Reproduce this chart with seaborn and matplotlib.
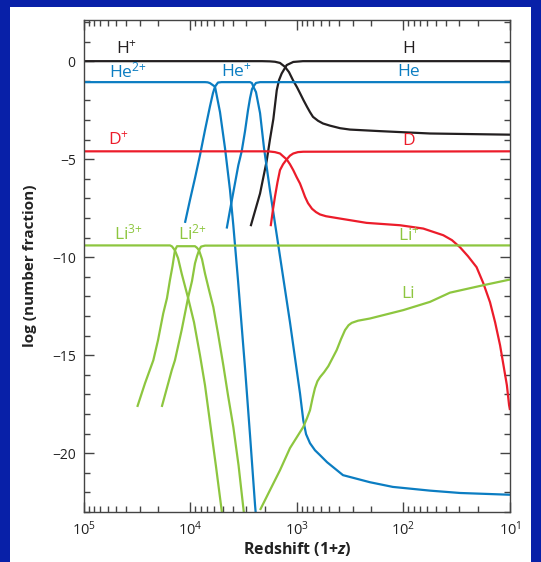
import matplotlib
matplotlib.use("Agg")
import matplotlib.pyplot as plt
import seaborn as sns
from matplotlib.patches import Rectangle
from matplotlib.ticker import LogLocator, MultipleLocator, FixedLocator, NullFormatter

sns.set_theme(style="ticks")
plt.rcParams['font.family'] = ['Open Sans', 'DejaVu Sans']
plt.rcParams['mathtext.fontset'] = 'custom'
plt.rcParams['mathtext.rm'] = 'Open Sans'
plt.rcParams['mathtext.it'] = 'Open Sans:italic'
plt.rcParams['mathtext.bf'] = 'Open Sans:bold'
plt.rcParams['mathtext.bfit'] = 'Open Sans:italic:bold'
plt.rcParams['axes.unicode_minus'] = True

# ---------------- data: redshift (1+z) and log(number fraction) ----------------
h_plus_z = [100000, 2133, 1795, 1611, 1445, 1297, 1189, 1091, 1000, 937.6, 869, 805, 755, 708, 635,
            570, 490, 394, 318, 166, 56.4, 10]
h_plus_y = [0, 0, -0.01, -0.03, -0.09, -0.29, -0.56, -0.97, -1.33, -1.63, -1.99, -2.33, -2.60, -2.84, -3.04,
            -3.18, -3.29, -3.42, -3.49, -3.57, -3.69, -3.75]

h_z = [2723, 2223, 1928, 1795, 1667, 1549, 1476, 1393, 1250, 1084, 879, 10]
h_y = [-8.42, -6.75, -5.1, -4.0, -2.95, -1.48, -0.97, -0.63, -0.20, -0.04, 0, 0]

he2_z = [100000, 7311, 6900, 6561, 5888, 5284, 4742, 4256, 3963, 3581, 3076, 2761, 2477, 2427]
he2_y = [-1.07, -1.07, -1.08, -1.12, -1.3, -2.60, -4.44, -6.58, -8.37, -11.17, -15.66, -19.08, -22.65, -23.21]

he1_z = [11270, 10120, 9078, 8147, 7311, 6561, 6152, 5888, 5521, 5105, 2761, 2647, 2572, 2427, 2223,
         2040, 1795, 1445, 1164, 937.6, 873, 822, 755, 678, 608, 522, 370, 207, 126, 56.4, 29.4, 10]
he1_y = [-8.25, -7.09, -5.97, -4.80, -3.52, -2.30, -1.63, -1.3, -1.09, -1.07, -1.07, -1.12, -1.3, -1.58, -2.65,
         -4.44, -6.58, -9.95, -13.32, -16.94, -18.32, -19.03, -19.49, -19.85, -20.10, -20.46, -21.12, -21.48,
         -21.72, -21.91, -22.03, -22.12]

he_z = [4571, 4256, 3819, 3556, 3304, 3076, 2884, 2761, 2647, 2572, 2427, 2223, 10]
he_y = [-8.54, -7.6, -6.22, -5.31, -4.59, -3.57, -2.5, -1.89, -1.43, -1.3, -1.11, -1.07, -1.07]

dp_z = [100000, 1871, 1611, 1445, 1352, 1250, 1164, 1084, 1007, 937.6, 887, 841, 789, 723, 663, 608, 535,
        394, 222, 108, 65.2, 42.3, 35.1, 29.4, 24.8, 20.6, 17.8, 15.4, 13.8, 12.4, 11.64, 10.7, 10.2, 10]
dp_y = [-4.6, -4.6, -4.64, -4.71, -4.85, -5.01, -5.26, -5.56, -5.92, -6.24, -6.58, -6.92, -7.24, -7.53, -7.70,
        -7.82, -7.91, -8.03, -8.25, -8.37, -8.54, -8.88, -9.13, -9.5, -9.95, -10.51, -11.33, -12.30, -13.32,
        -14.49, -15.36, -16.53, -17.55, -17.8]

d_z = [1766, 1679, 1611, 1524, 1445, 1352, 1250, 1164, 1084, 980, 873, 10]
d_y = [-8.42, -7.55, -6.92, -6.17, -5.56, -5.26, -5.01, -4.82, -4.71, -4.64, -4.62, -4.6]

li3_z = [100000, 15560, 14930, 14000, 13090, 12110, 10500, 9270, 8147, 7311, 6561, 5768, 5058]
li3_y = [-9.4, -9.4, -9.45, -9.65, -10.05, -10.83, -12.11, -13.32, -15.0, -16.53, -18.42, -20.66, -23.06]

li2_z = [31620, 26730, 22340, 20180, 18030, 16630, 15600, 14760, 14000, 13390, 9078, 8690, 8318, 7798,
         7311, 6698, 6109, 5521, 4920, 4446, 3963, 3540, 3148]
li2_y = [-17.64, -16.43, -15.26, -14.23, -12.87, -12.09, -11.17, -10.46, -9.65, -9.44, -9.44, -9.52, -9.65,
         -10.1, -10.83, -11.68, -12.54, -13.88, -15.51, -17.04, -18.66, -20.61, -23.08]

li1_z = [18620, 15000, 14000, 12110, 10500, 9683, 9078, 8690, 8318, 7962, 7311, 10]
li1_y = [-17.64, -15.77, -15.26, -13.72, -12.03, -11.22, -10.32, -9.95, -9.65, -9.46, -9.41, -9.4]

li0_z = [2223, 1795, 1445, 1164, 873, 805, 755, 714, 678, 643, 608, 557, 508, 464, 424, 386, 354, 328, 306,
         267, 207, 100.5, 56.4, 36.6, 17.8, 10]
li0_y = [-22.9, -21.89, -20.87, -19.74, -18.66, -18.21, -17.81, -17.19, -16.68, -16.33, -16.12, -15.87,
         -15.56, -15.15, -14.74, -14.18, -13.72, -13.47, -13.35, -13.24, -13.13, -12.70, -12.28, -11.81,
         -11.43, -11.14]

label_text = [r'H$^{+}$', 'H', r'He$^{2{+}}$', r'He$^{+}$', 'He', r'D$^{+}$', 'D',
              r'Li$^{3{+}}$', r'Li$^{2{+}}$', r'Li$^{+}$', 'Li']
label_z = [39450, 90, 38630, 3690, 90, 47970, 89, 38630, 9580, 89, 90]
label_y = [0.6, 0.6, -0.55, -0.55, -0.55, -4.05, -4.05, -8.8, -8.8, -8.95, -11.9]

BLACK = '#231F20'
BLUE = '#0B7DC2'
RED = '#EC1C2A'
GREEN = '#8DC63F'
BORDER = '#0820A8'

label_color = [BLACK, BLACK, BLUE, BLUE, BLUE, RED, RED, GREEN, GREEN, GREEN, GREEN]

# ---------------- figure ----------------
fig = plt.figure(figsize=(5.41, 5.62), dpi=100, facecolor=BORDER)
fig.add_artist(Rectangle((10 / 541, 0), 521 / 541, 555 / 562, transform=fig.transFigure,
                         facecolor='white', edgecolor='none', zorder=-5))
ax = fig.add_axes([84 / 541, 1 - 512 / 562, 426 / 541, 492 / 562])
ax.set_facecolor('white')

curves = [
    (h_plus_z, h_plus_y, BLACK), (h_z, h_y, BLACK),
    (he2_z, he2_y, BLUE), (he1_z, he1_y, BLUE), (he_z, he_y, BLUE),
    (dp_z, dp_y, RED), (d_z, d_y, RED),
    (li3_z, li3_y, GREEN), (li2_z, li2_y, GREEN), (li1_z, li1_y, GREEN), (li0_z, li0_y, GREEN),
]
for z, y, c in curves:
    sns.lineplot(x=z, y=y, color=c, lw=1.6, sort=False, estimator=None, ax=ax,
                 solid_capstyle='butt', solid_joinstyle='round')

for t, zx, yy, c in zip(label_text, label_z, label_y, label_color):
    ax.text(zx, yy, t, color=c, fontsize=12.5, ha='center', va='center', zorder=5)

ax.set_xscale('log')
ax.set_xlim(1e5, 10)
ax.set_ylim(-23, 2.1)
ax.xaxis.set_major_locator(LogLocator(base=10, numticks=10))
ax.xaxis.set_minor_locator(LogLocator(base=10, subs=range(2, 10), numticks=20))
ax.xaxis.set_minor_formatter(NullFormatter())
ax.yaxis.set_major_locator(FixedLocator([0, -5, -10, -15, -20]))
ax.yaxis.set_minor_locator(MultipleLocator(1))

ax.tick_params(which='both', direction='in', top=True, right=True, color='#444444',
               labelcolor='#222222', width=1)
ax.tick_params(which='major', length=7, pad=6)
ax.tick_params(which='minor', length=4)
ax.tick_params(axis='x', labelsize=10.5)
ax.tick_params(axis='y', labelsize=10)
for s in ax.spines.values():
    s.set_color('#444444')
    s.set_linewidth(1)

ax.set_xlabel(r'Redshift (1+$\mathbfit{z}$)', fontweight='bold', fontsize=11.5, color='#222222', labelpad=1)
ax.set_ylabel('log (number fraction)', fontweight='bold', fontsize=11, color='#222222', labelpad=11)

fig.savefig('out.png', dpi=100, facecolor=BORDER)
